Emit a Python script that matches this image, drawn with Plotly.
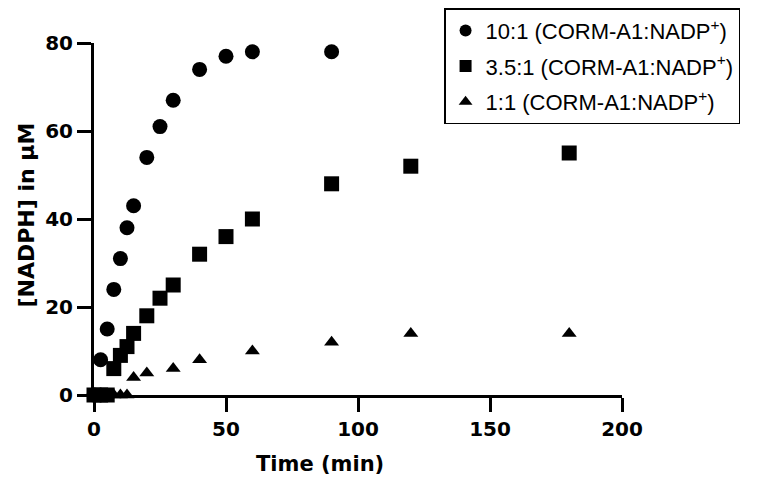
import plotly.graph_objects as go

time_circ = [0, 2.5, 5, 7.5, 10, 12.5, 15, 20, 25, 30, 40, 50, 60, 90]
val_circ = [0, 8, 15, 24, 31, 38, 43, 54, 61, 67, 74, 77, 78, 78]

time_sq = [0, 2.5, 5, 7.5, 10, 12.5, 15, 20, 25, 30, 40, 50, 60, 90, 120, 180]
val_sq = [0, 0, 0, 6, 9, 11, 14, 18, 22, 25, 32, 36, 40, 48, 52, 55]

time_tri = [0, 2.5, 5, 7.5, 10, 12.5, 15, 20, 30, 40, 60, 90, 120, 180]
val_tri = [0, 0, 0, 0, 0, 0, 4, 5, 6, 8, 10, 12, 14, 14]

x_ticks = [0, 50, 100, 150, 200]
y_ticks = [0, 20, 40, 60, 80]

names = ["10:1 (CORM-A1:NADP<sup>+</sup>)",
         "3.5:1 (CORM-A1:NADP<sup>+</sup>)",
         "1:1 (CORM-A1:NADP<sup>+</sup>)"]

FONT = "Liberation Sans, Arial, sans-serif"
BOLD = "DejaVu Sans, Arial, sans-serif"

fig = go.Figure()
series = [(time_circ, val_circ, "circle", 15),
          (time_sq, val_sq, "square", 15),
          (time_tri, val_tri, "triangle-up", 13)]
for i, (x, y, sym, sz) in enumerate(series):
    fig.add_trace(go.Scatter(x=x, y=y, mode="markers", name=names[i],
                             legendgroup=f"g{i}",
                             marker=dict(symbol=sym, size=sz, color="black"),
                             cliponaxis=False))

tick_common = dict(showline=True, linewidth=3, linecolor="black",
                   ticks="outside", ticklen=14, tickwidth=3, tickcolor="black",
                   showgrid=False, zeroline=False,
                   tickfont=dict(family=BOLD, size=20, color="black"))

fig.update_layout(
    width=767, height=484,
    margin=dict(l=86, r=153, t=35, b=97, autoexpand=False),
    plot_bgcolor="white", paper_bgcolor="white",
    font=dict(family=FONT, color="black"),
    xaxis=dict(range=[0, 200], tickvals=x_ticks,
               ticktext=[f"<b>{v}</b>" for v in x_ticks], **tick_common),
    yaxis=dict(range=[0, 80], tickvals=y_ticks,
               ticktext=[f"<b>{v}</b>" for v in y_ticks], **tick_common),
    legend=dict(x=0.663, y=1.099, xanchor="left", yanchor="top",
                bordercolor="black", borderwidth=1.5, bgcolor="white",
                font=dict(family=FONT, size=22, color="black"),
                tracegroupgap=4, itemsizing="constant"),
    showlegend=True,
    annotations=[
        dict(text="<b>Time (min)</b>", xref="paper", yref="paper",
             x=0.428, y=-0.196, xanchor="center", yanchor="middle",
             showarrow=False, font=dict(family=BOLD, size=21, color="black")),
        dict(text="<b>[NADPH] in μM</b>", xref="paper", yref="paper",
             x=-0.128, y=0.511, xanchor="center", yanchor="middle",
             textangle=-90, showarrow=False,
             font=dict(family=BOLD, size=22, color="black")),
    ],
)

fig.write_html("out.html")
